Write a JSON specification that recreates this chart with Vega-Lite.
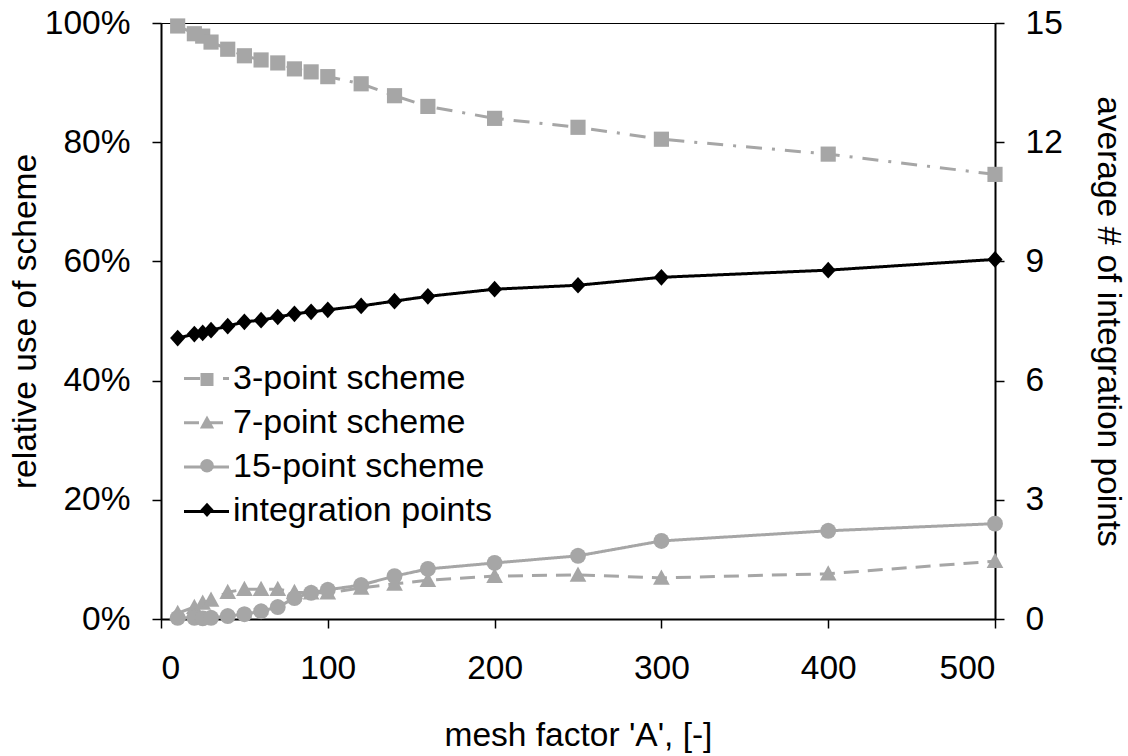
{
  "$schema": "https://vega.github.io/schema/vega-lite/v6.json",
  "width": 834,
  "height": 596,
  "autosize": {"type": "none"},
  "padding": {"left": 161, "top": 23, "right": 133, "bottom": 137},
  "background": "white",
  "config": {
    "font": "Liberation Sans",
    "view": {"stroke": "black", "strokeWidth": 1},
    "axis": {
      "grid": false,
      "domainColor": "black",
      "domainWidth": 2,
      "tickColor": "black",
      "tickWidth": 1.5,
      "tickSize": 9,
      "labelFont": "Liberation Sans",
      "labelFontSize": 33.5,
      "labelColor": "black",
      "titleFont": "Liberation Sans",
      "titleFontSize": 33.5,
      "titleFontWeight": "normal",
      "titleColor": "black"
    },
    "legend": {
      "title": null, "orient": "none", "legendX": 0, "padding": 0,
      "labelFont": "Liberation Sans", "labelFontSize": 34, "labelColor": "black", "labelLimit": 500
    }
  },
  "datasets": {
    "d": [
      {"A": 10, "series": "3-point scheme", "v": 0.995},
      {"A": 20, "series": "3-point scheme", "v": 0.982},
      {"A": 25, "series": "3-point scheme", "v": 0.978},
      {"A": 30, "series": "3-point scheme", "v": 0.968},
      {"A": 40, "series": "3-point scheme", "v": 0.956},
      {"A": 50, "series": "3-point scheme", "v": 0.945},
      {"A": 60, "series": "3-point scheme", "v": 0.938},
      {"A": 70, "series": "3-point scheme", "v": 0.933},
      {"A": 80, "series": "3-point scheme", "v": 0.923},
      {"A": 90, "series": "3-point scheme", "v": 0.918},
      {"A": 100, "series": "3-point scheme", "v": 0.910},
      {"A": 120, "series": "3-point scheme", "v": 0.898},
      {"A": 140, "series": "3-point scheme", "v": 0.878},
      {"A": 160, "series": "3-point scheme", "v": 0.860},
      {"A": 200, "series": "3-point scheme", "v": 0.840},
      {"A": 250, "series": "3-point scheme", "v": 0.825},
      {"A": 300, "series": "3-point scheme", "v": 0.805},
      {"A": 400, "series": "3-point scheme", "v": 0.780},
      {"A": 500, "series": "3-point scheme", "v": 0.746},
      {"A": 10, "series": "7-point scheme", "v": 0.010},
      {"A": 20, "series": "7-point scheme", "v": 0.020},
      {"A": 25, "series": "7-point scheme", "v": 0.027},
      {"A": 30, "series": "7-point scheme", "v": 0.032},
      {"A": 40, "series": "7-point scheme", "v": 0.045},
      {"A": 50, "series": "7-point scheme", "v": 0.050},
      {"A": 60, "series": "7-point scheme", "v": 0.050},
      {"A": 70, "series": "7-point scheme", "v": 0.050},
      {"A": 80, "series": "7-point scheme", "v": 0.045},
      {"A": 90, "series": "7-point scheme", "v": 0.044},
      {"A": 100, "series": "7-point scheme", "v": 0.044},
      {"A": 120, "series": "7-point scheme", "v": 0.052},
      {"A": 140, "series": "7-point scheme", "v": 0.059},
      {"A": 160, "series": "7-point scheme", "v": 0.065},
      {"A": 200, "series": "7-point scheme", "v": 0.072},
      {"A": 250, "series": "7-point scheme", "v": 0.074},
      {"A": 300, "series": "7-point scheme", "v": 0.069},
      {"A": 400, "series": "7-point scheme", "v": 0.076},
      {"A": 500, "series": "7-point scheme", "v": 0.097},
      {"A": 10, "series": "15-point scheme", "v": 0.002},
      {"A": 20, "series": "15-point scheme", "v": 0.002},
      {"A": 25, "series": "15-point scheme", "v": 0.001},
      {"A": 30, "series": "15-point scheme", "v": 0.002},
      {"A": 40, "series": "15-point scheme", "v": 0.005},
      {"A": 50, "series": "15-point scheme", "v": 0.008},
      {"A": 60, "series": "15-point scheme", "v": 0.013},
      {"A": 70, "series": "15-point scheme", "v": 0.020},
      {"A": 80, "series": "15-point scheme", "v": 0.035},
      {"A": 90, "series": "15-point scheme", "v": 0.044},
      {"A": 100, "series": "15-point scheme", "v": 0.049},
      {"A": 120, "series": "15-point scheme", "v": 0.057},
      {"A": 140, "series": "15-point scheme", "v": 0.072},
      {"A": 160, "series": "15-point scheme", "v": 0.084},
      {"A": 200, "series": "15-point scheme", "v": 0.094},
      {"A": 250, "series": "15-point scheme", "v": 0.106},
      {"A": 300, "series": "15-point scheme", "v": 0.131},
      {"A": 400, "series": "15-point scheme", "v": 0.148},
      {"A": 500, "series": "15-point scheme", "v": 0.160},
      {"A": 10, "series": "integration points", "v": 7.07},
      {"A": 20, "series": "integration points", "v": 7.17},
      {"A": 25, "series": "integration points", "v": 7.2},
      {"A": 30, "series": "integration points", "v": 7.27},
      {"A": 40, "series": "integration points", "v": 7.37},
      {"A": 50, "series": "integration points", "v": 7.48},
      {"A": 60, "series": "integration points", "v": 7.52},
      {"A": 70, "series": "integration points", "v": 7.6},
      {"A": 80, "series": "integration points", "v": 7.68},
      {"A": 90, "series": "integration points", "v": 7.73},
      {"A": 100, "series": "integration points", "v": 7.78},
      {"A": 120, "series": "integration points", "v": 7.88},
      {"A": 140, "series": "integration points", "v": 8.0},
      {"A": 160, "series": "integration points", "v": 8.12},
      {"A": 200, "series": "integration points", "v": 8.3},
      {"A": 250, "series": "integration points", "v": 8.4},
      {"A": 300, "series": "integration points", "v": 8.6},
      {"A": 400, "series": "integration points", "v": 8.78},
      {"A": 500, "series": "integration points", "v": 9.05}
    ]
  },
  "data": {"name": "d"},
  "encoding": {
    "x": {
      "field": "A",
      "type": "quantitative",
      "scale": {"domain": [0, 500], "nice": false},
      "axis": {"values": [0, 100, 200, 300, 400, 500], "title": "mesh factor 'A', [-]", "labelPadding": 24, "titlePadding": 35}
    }
  },
  "layer": [
    {
      "transform": [{"filter": "datum.series != 'integration points'"}],
      "encoding": {
        "y": {
          "field": "v",
          "type": "quantitative",
          "scale": {"domain": [0, 1], "nice": false},
          "axis": {"orient": "left", "values": [0, 0.2, 0.4, 0.6, 0.8, 1], "format": ".0%", "title": "relative use of scheme", "labelPadding": 22, "titlePadding": 2}
        }
      },
      "layer": [
        {
          "mark": {"type": "line", "strokeWidth": 3},
          "encoding": {
            "color": {
              "field": "series", "type": "nominal",
              "scale": {"domain": ["3-point scheme", "7-point scheme", "15-point scheme", "integration points"], "range": ["#a6a6a6", "#a6a6a6", "#a6a6a6", "#000000"]},
              "legend": {"legendY": 331.5, "symbolType": "stroke", "symbolSize": 2025, "symbolStrokeWidth": 3, "symbolOffset": 21.5, "labelOffset": 2.5, "rowPadding": 3.3}
            },
            "strokeDash": {
              "field": "series", "type": "nominal",
              "scale": {"domain": ["3-point scheme", "7-point scheme", "15-point scheme", "integration points"], "range": [[16, 10, 3, 10], [15, 9], [1, 0], [1, 0]]},
              "legend": {"legendY": 331.5, "symbolType": "stroke", "symbolSize": 2025, "symbolStrokeWidth": 3, "symbolOffset": 21.5, "labelOffset": 2.5, "rowPadding": 3.3}
            }
          }
        },
        {
          "mark": {"type": "point", "filled": true, "opacity": 1, "size": 230, "strokeWidth": 0},
          "encoding": {
            "fill": {
              "field": "series", "type": "nominal",
              "scale": {"domain": ["3-point scheme", "7-point scheme", "15-point scheme", "integration points", "-"], "range": ["#a6a6a6", "#a6a6a6", "#a6a6a6", "#000000", "transparent"]},
              "legend": {"legendY": 349, "symbolSize": 169, "symbolOffset": 38.5, "labelOffset": 0, "rowPadding": 23.1, "labelExpr": "''", "labelFontSize": 1}
            },
            "shape": {
              "field": "series", "type": "nominal",
              "scale": {
                "domain": ["3-point scheme", "7-point scheme", "15-point scheme", "integration points", "-"],
                "range": [
                  "M-1,-1H1V1H-1Z",
                  "M0,-1.1L1.1,0.9H-1.1Z",
                  "M1.05,0L0.97,0.4L0.74,0.74L0.4,0.97L0,1.05L-0.4,0.97L-0.74,0.74L-0.97,0.4L-1.05,0L-0.97,-0.4L-0.74,-0.74L-0.4,-0.97L0,-1.05L0.4,-0.97L0.74,-0.74L0.97,-0.4Z",
                  "M0,-1.1L1,0L0,1.1L-1,0Z",
                  "circle"
                ]
              },
              "legend": {"legendY": 349, "symbolSize": 169, "symbolOffset": 38.5, "labelOffset": 0, "rowPadding": 23.1, "labelExpr": "''", "labelFontSize": 1}
            }
          }
        }
      ]
    },
    {
      "transform": [{"filter": "datum.series == 'integration points'"}],
      "encoding": {
        "y": {
          "field": "v",
          "type": "quantitative",
          "scale": {"domain": [0, 15], "nice": false},
          "axis": {"orient": "right", "values": [0, 3, 6, 9, 12, 15], "title": "average # of integration points", "labelPadding": 21, "titlePadding": 28}
        }
      },
      "layer": [
        {
          "mark": {"type": "line", "strokeWidth": 3},
          "encoding": {
            "color": {
              "field": "series", "type": "nominal",
              "scale": {"domain": ["3-point scheme", "7-point scheme", "15-point scheme", "integration points"], "range": ["#a6a6a6", "#a6a6a6", "#a6a6a6", "#000000"]},
              "legend": {"legendY": 331.5, "symbolType": "stroke", "symbolSize": 2025, "symbolStrokeWidth": 3, "symbolOffset": 21.5, "labelOffset": 2.5, "rowPadding": 3.3}
            },
            "strokeDash": {
              "field": "series", "type": "nominal",
              "scale": {"domain": ["3-point scheme", "7-point scheme", "15-point scheme", "integration points"], "range": [[16, 10, 3, 10], [15, 9], [1, 0], [1, 0]]},
              "legend": {"legendY": 331.5, "symbolType": "stroke", "symbolSize": 2025, "symbolStrokeWidth": 3, "symbolOffset": 21.5, "labelOffset": 2.5, "rowPadding": 3.3}
            }
          }
        },
        {
          "mark": {"type": "point", "filled": true, "opacity": 1, "size": 230, "strokeWidth": 0},
          "encoding": {
            "fill": {
              "field": "series", "type": "nominal",
              "scale": {"domain": ["3-point scheme", "7-point scheme", "15-point scheme", "integration points", "-"], "range": ["#a6a6a6", "#a6a6a6", "#a6a6a6", "#000000", "transparent"]},
              "legend": {"legendY": 349, "symbolSize": 169, "symbolOffset": 38.5, "labelOffset": 0, "rowPadding": 23.1, "labelExpr": "''", "labelFontSize": 1}
            },
            "shape": {
              "field": "series", "type": "nominal",
              "scale": {
                "domain": ["3-point scheme", "7-point scheme", "15-point scheme", "integration points", "-"],
                "range": [
                  "M-1,-1H1V1H-1Z",
                  "M0,-1.1L1.1,0.9H-1.1Z",
                  "M1.05,0L0.97,0.4L0.74,0.74L0.4,0.97L0,1.05L-0.4,0.97L-0.74,0.74L-0.97,0.4L-1.05,0L-0.97,-0.4L-0.74,-0.74L-0.4,-0.97L0,-1.05L0.4,-0.97L0.74,-0.74L0.97,-0.4Z",
                  "M0,-1.1L1,0L0,1.1L-1,0Z",
                  "circle"
                ]
              },
              "legend": {"legendY": 349, "symbolSize": 169, "symbolOffset": 38.5, "labelOffset": 0, "rowPadding": 23.1, "labelExpr": "''", "labelFontSize": 1}
            }
          }
        }
      ]
    }
  ],
  "resolve": {"scale": {"y": "independent"}}
}
